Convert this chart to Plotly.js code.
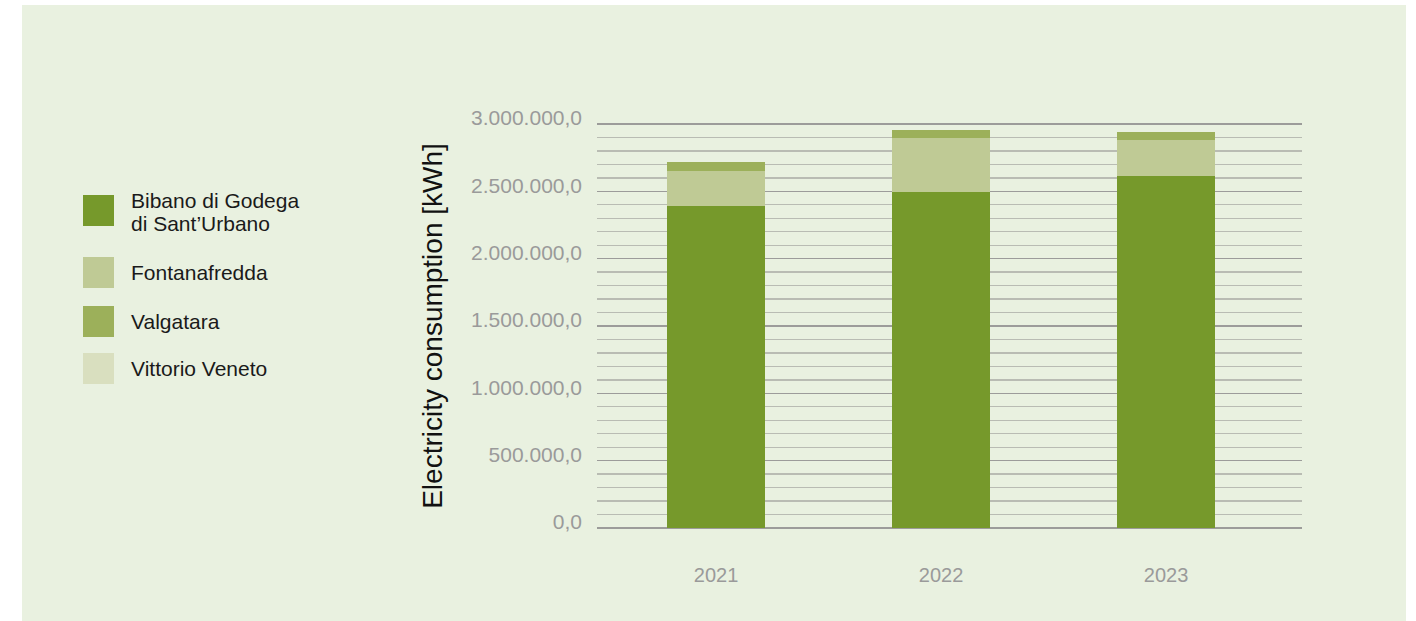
<!DOCTYPE html>
<html>
<head>
<meta charset="utf-8">
<script src="https://cdn.plot.ly/plotly-3.0.1.min.js"></script>
<style>
html,body{margin:0;padding:0;background:#ffffff;}
#chart{position:absolute;left:22px;top:5px;width:1384px;height:616px;}
</style>
</head>
<body>
<div id="chart"></div>
<script>
const years = ["2021", "2022", "2023"];
const seriesNames = ["Bibano di Godega<br>di Sant’Urbano", "Fontanafredda", "Valgatara", "Vittorio Veneto"];
const bibano = [2391000, 2495000, 2614000];
const fontanafredda = [260000, 401000, 267000];
const valgatara = [67000, 59000, 59000];
const vittorioVeneto = [0, 0, 0];
const seriesColors = ["#76992b", "#bfca95", "#9cb05a", "#d9dfbf"];
const yTitle = "Electricity consumption [kWh]";

const FONT = "'Liberation Sans', Arial, sans-serif";
const values = [bibano, fontanafredda, valgatara, vittorioVeneto];
const traces = values.map((v, i) => ({
  type: "bar", x: years, y: v, name: seriesNames[i],
  marker: {color: seriesColors[i], line: {width: 0}},
  showlegend: false, hoverinfo: "skip"
}));

const W = 1384, H = 616;
const M = {l: 575, r: 104, t: 117, b: 91};
const pw = W - M.l - M.r, ph = H - M.t - M.b;
const px = x => (x - M.l) / pw;
const py = y => (H - M.b - y) / ph;

const shapes = [], annotations = [];
const legendY = [205, 267, 316, 363];
seriesNames.forEach((n, i) => {
  shapes.push({type: "rect", xref: "paper", yref: "paper",
    x0: px(61), x1: px(92), y0: py(legendY[i] + 16), y1: py(legendY[i] - 15),
    fillcolor: seriesColors[i], line: {width: 0}, layer: "above"});
  const lines = n.split("<br>");
  const lineGap = 23;
  const startY = legendY[i] - (lines.length - 1) * lineGap / 2 + (lines.length > 1 ? 2 : 0);
  lines.forEach((ln, j) => {
    annotations.push({xref: "paper", yref: "paper", x: px(107), y: py(startY + j * lineGap),
      text: ln, showarrow: false, xanchor: "left", yanchor: "middle", align: "left",
      font: {family: FONT, size: 21, color: "#1a1a1a"}});
  });
});

const layout = {
  width: W, height: H,
  margin: M,
  paper_bgcolor: "#e9f1e0", plot_bgcolor: "#e9f1e0",
  barmode: "stack", bargap: 0.565,
  separators: ",.",
  showlegend: false,
  xaxis: {
    type: "category", range: [-0.529, 2.604],
    showgrid: false, zeroline: false, showline: false, ticks: "",
    ticklabelstandoff: 31,
    tickfont: {family: FONT, size: 20, color: "#9a9a9a"}
  },
  yaxis: {
    range: [-15000, 3015000], dtick: 500000, tick0: 0,
    tickformat: ",.1f",
    showgrid: true, gridcolor: "#9c9c9a", gridwidth: 1.5,
    zeroline: false, showline: false, ticks: "",
    ticklabelstandoff: 14, ticklabelshift: -6,
    tickfont: {family: FONT, size: 21, color: "#9a9a9a"},
    minor: {dtick: 100000, showgrid: true, gridcolor: "#b9bcb3", gridwidth: 1.3},
    title: {text: yTitle, standoff: 20,
      font: {family: FONT, size: 28, color: "#111111"}}
  },
  shapes: shapes, annotations: annotations
};

Plotly.newPlot("chart", traces, layout, {displayModeBar: false, staticPlot: true});
</script>
</body>
</html>
